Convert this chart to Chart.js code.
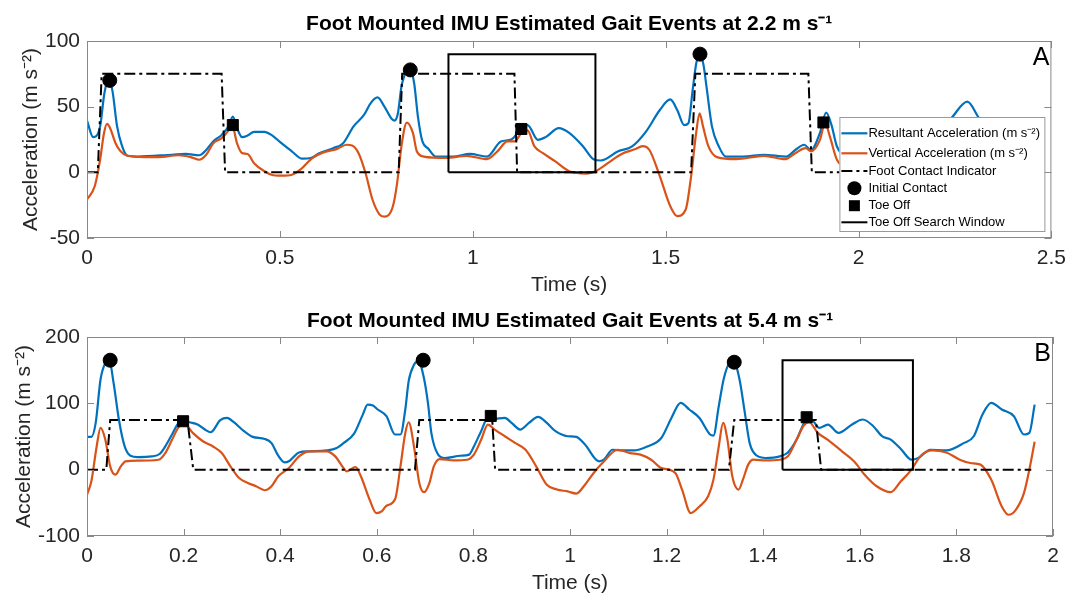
<!DOCTYPE html>
<html>
<head>
<meta charset="utf-8">
<script src="https://cdn.jsdelivr.net/npm/chart.js@4.4.1/dist/chart.umd.min.js"></script>
<style>
  html, body { margin: 0; background: #fff; }
  #wrap { position: relative; width: 1074px; height: 598px; }
  canvas { position: absolute; left: 0; }
  #chartA { top: 0; }
  #chartB { top: 298px; }
</style>
</head>
<body>
<div id="wrap">
  <canvas id="chartA" width="1074" height="300"></canvas>
  <canvas id="chartB" width="1074" height="300"></canvas>
</div>
<script>
// ---- panel A : 2.2 m/s ----
const resTimeA = [0, 0.016, 0.034, 0.045, 0.056, 0.066, 0.078, 0.091, 0.105, 0.131, 0.22, 0.256, 0.291, 0.309, 0.327, 0.349, 0.367, 0.378, 0.389, 0.402, 0.416, 0.433, 0.46, 0.478, 0.504, 0.531, 0.558, 0.58, 0.602, 0.638, 0.664, 0.691, 0.718, 0.735, 0.753, 0.771, 0.789, 0.797, 0.806, 0.815, 0.829, 0.838, 0.848, 0.858, 0.869, 0.885, 0.904, 0.948, 0.993, 1.037, 1.073, 1.1, 1.126, 1.142, 1.169, 1.19, 1.223, 1.25, 1.286, 1.313, 1.332, 1.377, 1.413, 1.449, 1.485, 1.512, 1.53, 1.548, 1.559, 1.57, 1.58, 1.589, 1.598, 1.606, 1.62, 1.638, 1.656, 1.7, 1.755, 1.813, 1.836, 1.859, 1.877, 1.9, 1.916, 1.93, 1.944, 1.97, 2.0, 2.1, 2.18, 2.24, 2.282, 2.313, 2.36];
const resultantA = [39.4, 26.8, 35, 60, 71, 62, 35, 20, 12.6, 12, 13.4, 14, 13, 17, 23.5, 28.5, 35, 42.4, 33.6, 26.8, 28, 30.8, 30.8, 28.5, 22.2, 16, 10.4, 10.9, 14.6, 18.4, 22.2, 35, 43.7, 52.5, 57, 50, 41, 39.4, 45, 65, 77, 78, 68, 42, 24, 18, 12, 12, 14, 12, 23.5, 25, 33.6, 36, 24.7, 27, 33.6, 30, 19.7, 10, 9, 16, 19.7, 31, 47.5, 55.5, 47.5, 36, 37.4, 62.6, 84, 89, 82, 65, 35, 19.7, 12, 12, 13.4, 12, 17, 21, 17, 30, 45.5, 36, 19.7, 13, 12, 13, 22, 41, 53.8, 41, 25];
const vertTimeA = [0, 0.02, 0.034, 0.044, 0.052, 0.06, 0.074, 0.087, 0.105, 0.149, 0.185, 0.238, 0.269, 0.291, 0.309, 0.327, 0.349, 0.367, 0.376, 0.389, 0.402, 0.416, 0.433, 0.46, 0.478, 0.504, 0.531, 0.553, 0.584, 0.611, 0.647, 0.673, 0.687, 0.704, 0.722, 0.74, 0.758, 0.771, 0.793, 0.804, 0.815, 0.829, 0.845, 0.855, 0.873, 0.931, 0.984, 1.037, 1.064, 1.09, 1.108, 1.126, 1.142, 1.16, 1.182, 1.214, 1.25, 1.295, 1.318, 1.35, 1.386, 1.422, 1.44, 1.458, 1.485, 1.512, 1.53, 1.552, 1.566, 1.579, 1.588, 1.597, 1.611, 1.633, 1.683, 1.755, 1.809, 1.836, 1.863, 1.877, 1.9, 1.913, 1.926, 1.944, 1.97, 2.0, 2.1, 2.2, 2.3, 2.36];
const verticalA = [-20.7, -10.6, 9.6, 29.8, 36.9, 33.6, 22.2, 16, 12.6, 11.6, 11.6, 13, 11.6, 9.6, 13.4, 22, 26, 32, 36, 22, 14.6, 14, 7, 0.8, -1.8, -2.5, -1.8, 2, 10.9, 15, 17.7, 21, 20.5, 14.6, -0.5, -20.7, -32, -33.8, -25.8, -8, 19.7, 37.9, 29.8, 16, 12, 10.9, 12.6, 10, 16, 23.5, 23.5, 29.8, 32, 19.7, 14.6, 8.3, 0.8, -1, 0.8, 7, 14, 17.7, 20, 17, -3, -25.8, -33.3, -28.3, -3, 29.8, 45, 34.8, 19.7, 11.6, 10, 12.6, 10, 14.6, 18.4, 16, 24.7, 37.4, 27, 9.6, 4, 3, 10, 14, 5, 0];
const contactTimeA = [0, 0.028, 0.038, 0.349, 0.358, 0.808, 0.817, 1.108, 1.115, 1.566, 1.577, 1.87, 1.879, 2.36];
const contactA = [0, 0, 75, 75, 0, 0, 75, 75, 0, 0, 75, 75, 0, 0];
const icTimeA = [0.059, 0.838, 1.589];
const icA = [70, 78, 90];
const toTimeA = [0.378, 1.126, 1.909];
const toA = [36, 33, 38];
const windowA = [0.937, 1.318, 90]; // start, end, height

// ---- panel B : 5.4 m/s ----
const resTimeB = [0, 0.009, 0.018, 0.028, 0.038, 0.046, 0.055, 0.066, 0.078, 0.09, 0.105, 0.134, 0.151, 0.162, 0.176, 0.187, 0.197, 0.212, 0.229, 0.244, 0.256, 0.276, 0.29, 0.304, 0.325, 0.343, 0.368, 0.382, 0.396, 0.409, 0.418, 0.439, 0.46, 0.496, 0.517, 0.531, 0.553, 0.571, 0.581, 0.592, 0.602, 0.62, 0.638, 0.649, 0.659, 0.666, 0.677, 0.686, 0.697, 0.706, 0.713, 0.727, 0.741, 0.773, 0.791, 0.801, 0.816, 0.83, 0.844, 0.865, 0.879, 0.897, 0.915, 0.934, 0.952, 0.97, 0.995, 1.013, 1.031, 1.06, 1.07, 1.088, 1.11, 1.132, 1.16, 1.189, 1.21, 1.229, 1.247, 1.268, 1.29, 1.297, 1.308, 1.318, 1.329, 1.34, 1.351, 1.362, 1.372, 1.387, 1.405, 1.434, 1.451, 1.469, 1.484, 1.491, 1.505, 1.516, 1.534, 1.556, 1.584, 1.606, 1.628, 1.646, 1.664, 1.685, 1.707, 1.721, 1.746, 1.779, 1.815, 1.836, 1.854, 1.872, 1.894, 1.919, 1.94, 1.951, 1.962];
const resultantB = [49.4, 49.4, 70.5, 136, 161, 165, 131, 75.6, 35, 21, 19, 20, 24, 35, 53, 68, 74.6, 71.5, 68, 60.5, 56.4, 74.6, 78, 71.5, 58, 49.4, 46.3, 40, 21, 11, 12.6, 26, 27.7, 29, 32.7, 40, 54.4, 83, 98, 96.7, 90.7, 80.6, 53, 53, 90.7, 133.5, 158, 164, 140, 100, 55, 22.7, 17.6, 21, 22.7, 35, 58, 78, 76.6, 78, 70.5, 60.5, 70.5, 79.6, 70.5, 58, 50.4, 49.4, 37.8, 12.6, 15, 30, 29, 29, 35, 47.8, 78, 100.7, 90.7, 78, 53, 51.4, 95.7, 136, 158.7, 161, 136, 85.6, 40, 21, 17.6, 20, 26, 45, 69.5, 76.6, 71.5, 63, 68, 55.4, 68, 75.6, 65.5, 50.4, 45.3, 31.2, 15, 17.6, 30, 29, 40, 50.4, 83, 100.7, 90.7, 80.6, 53, 55.4, 98];
const vertTimeB = [0, 0.009, 0.02, 0.028, 0.038, 0.048, 0.059, 0.07, 0.08, 0.105, 0.148, 0.162, 0.176, 0.19, 0.2, 0.219, 0.24, 0.261, 0.279, 0.297, 0.315, 0.333, 0.35, 0.368, 0.382, 0.396, 0.418, 0.439, 0.46, 0.496, 0.514, 0.531, 0.538, 0.556, 0.567, 0.585, 0.599, 0.61, 0.62, 0.638, 0.649, 0.659, 0.666, 0.677, 0.688, 0.698, 0.709, 0.718, 0.73, 0.759, 0.787, 0.801, 0.816, 0.83, 0.844, 0.865, 0.887, 0.908, 0.93, 0.952, 0.973, 0.995, 1.013, 1.031, 1.049, 1.067, 1.099, 1.124, 1.146, 1.168, 1.189, 1.218, 1.232, 1.25, 1.268, 1.286, 1.297, 1.308, 1.317, 1.326, 1.336, 1.349, 1.358, 1.369, 1.38, 1.405, 1.434, 1.451, 1.469, 1.484, 1.495, 1.513, 1.534, 1.563, 1.588, 1.61, 1.635, 1.664, 1.685, 1.707, 1.725, 1.75, 1.779, 1.807, 1.829, 1.85, 1.872, 1.894, 1.908, 1.923, 1.94, 1.951, 1.962];
const verticalB = [-37.8, -17.6, 35, 63, 45, 5, -7.6, 5, 12.6, 13.6, 15, 25, 45, 64.5, 70, 55.4, 42.8, 35, 25, 5, -12.6, -20, -25, -31, -25, -10, 2.5, 20, 27.7, 27.7, 20, 2.5, -2.5, 4, -10, -45, -65.5, -63, -54.4, -44.3, 5, 55.4, 71.5, 35, -20, -34, -20, 5, 16, 14, 15, 22.7, 45, 68, 60.5, 50.4, 40, 30, 5, -22.7, -30, -32.7, -36, -22.7, -5, 10, 30, 25, 22.7, 15, 2.5, -5, -30, -65.5, -55.4, -40, -15, 35, 70.5, 45, -10, -30, -15, 7.6, 15, 14, 15, 20, 45, 66.5, 71.5, 55.4, 45, 27.7, 12.6, -7.6, -25, -34, -17.6, 0, 20, 29, 26, 15, 10, 7.6, -15, -55.4, -68, -60.5, -35, 0, 42];
const contactTimeB = [0, 0.04, 0.048, 0.208, 0.22, 0.679, 0.688, 0.839, 0.845, 1.329, 1.34, 1.509, 1.52, 1.955];
const contactB = [0, 0, 75, 75, 0, 0, 75, 75, 0, 0, 75, 75, 0, 0];
const icTimeB = [0.048, 0.696, 1.34];
const icB = [165, 165, 162];
const toTimeB = [0.199, 0.836, 1.49];
const toB = [73, 81, 79];
const windowB = [1.44, 1.71, 165];

const FONT = '"Liberation Sans", Arial, sans-serif';
Chart.defaults.font.family = FONT;

const pts = (xs, ys) => xs.map((x, i) => ({ x: x, y: ys[i] }));
const box = w => [{ x: w[0], y: 0 }, { x: w[0], y: w[2] }, { x: w[1], y: w[2] }, { x: w[1], y: 0 }, { x: w[0], y: 0 }];

function drawLegend(chart, L) {
  const ctx = chart.ctx, a = chart.chartArea;
  const x0 = a.right - L.right - L.width, y0 = a.top + L.top;
  ctx.fillStyle = '#fff';
  ctx.fillRect(x0, y0, L.width, L.height);
  ctx.strokeStyle = '#999';
  ctx.lineWidth = 1;
  ctx.strokeRect(x0 + 0.5, y0 + 0.5, L.width, L.height);
  ctx.font = '13px ' + FONT;
  ctx.textAlign = 'left';
  ctx.textBaseline = 'middle';
  chart.data.datasets.forEach((ds, i) => {
    const cy = y0 + L.rows[i];
    ctx.fillStyle = '#000';
    if (ds.showLine === false) {
      ctx.beginPath();
      if (ds.pointStyle == 'circle') ctx.arc(x0 + 15, cy, 7, 0, Math.PI * 2);
      else ctx.rect(x0 + 9.5, cy - 5.5, 11, 11);
      ctx.fill();
    } else {
      ctx.strokeStyle = ds.borderColor;
      ctx.lineWidth = ds.borderWidth;
      ctx.setLineDash(ds.borderDash || []);
      ctx.beginPath();
      ctx.moveTo(x0 + 2, cy);
      ctx.lineTo(x0 + 28, cy);
      ctx.stroke();
      ctx.setLineDash([]);
    }
    ctx.fillStyle = '#000';
    ctx.fillText(ds.label, x0 + 29, cy);
  });
}

// matlab style box, inward ticks, panel letter and legend
const decor = {
  id: 'decor',
  afterDraw(chart, args, opts) {
    const { ctx, chartArea: a } = chart;
    const xs = chart.scales.x, ys = chart.scales.y;
    ctx.save();
    ctx.strokeStyle = '#888';
    ctx.lineWidth = 1;
    ctx.beginPath();
    xs.ticks.forEach(t => {
      const p = Math.round(xs.getPixelForValue(t.value)) + 0.5;
      ctx.moveTo(p, a.bottom); ctx.lineTo(p, a.bottom - 7);
      ctx.moveTo(p, a.top); ctx.lineTo(p, a.top + 7);
    });
    ys.ticks.forEach(t => {
      const p = Math.round(ys.getPixelForValue(t.value)) + 0.5;
      ctx.moveTo(a.left, p); ctx.lineTo(a.left + 7, p);
      ctx.moveTo(a.right, p); ctx.lineTo(a.right - 7, p);
    });
    ctx.stroke();
    ctx.strokeRect(a.left + 0.5, a.top + 0.5, a.width - 1, a.height - 1);
    ctx.fillStyle = '#000';
    ctx.font = '25px ' + FONT;
    ctx.textAlign = 'right';
    ctx.textBaseline = 'alphabetic';
    ctx.fillText(opts.letter, a.right - 2, a.top + 24);
    if (opts.legend) drawLegend(chart, opts.legend);
    ctx.restore();
  }
};

function makeChart(id, d) {
  return new Chart(document.getElementById(id), {
    type: 'line',
    data: {
      datasets: [
        { label: 'Resultant Acceleration (m s\u207B\u00B2)', data: pts(d.resTime, d.res), borderColor: '#0072BD', borderWidth: 2.2, pointRadius: 0, cubicInterpolationMode: 'monotone', order: 6 },
        { label: 'Vertical Acceleration (m s\u207B\u00B2)', data: pts(d.vertTime, d.vert), borderColor: '#D95319', borderWidth: 2.2, pointRadius: 0, cubicInterpolationMode: 'monotone', order: 5 },
        { label: 'Foot Contact Indicator', data: pts(d.contactTime, d.contact), borderColor: '#000', borderWidth: 2, borderDash: [11, 4, 3, 4], pointRadius: 0, tension: 0, order: 4 },
        { label: 'Initial Contact', data: pts(d.icTime, d.ic), showLine: false, pointStyle: 'circle', pointRadius: 7, backgroundColor: '#000', borderColor: '#000', order: 2 },
        { label: 'Toe Off', data: pts(d.toTime, d.to), showLine: false, pointStyle: 'rect', pointRadius: 7.8, backgroundColor: '#000', borderColor: '#000', order: 1 },
        { label: 'Toe Off Search Window', data: box(d.win), borderColor: '#000', borderWidth: 2, pointRadius: 0, tension: 0, order: 3 }
      ]
    },
    options: {
      responsive: false,
      animation: false,
      layout: { padding: { left: 0, right: 21, top: 0, bottom: 0 } },
      plugins: {
        legend: { display: false },
        tooltip: { enabled: false },
        title: {
          display: true, fullSize: false, text: d.title, color: '#000',
          font: { size: 21, weight: 'bold' }, padding: d.titlePad
        },
        decor: { letter: d.letter, legend: d.legend }
      },
      scales: {
        x: {
          type: 'linear', min: 0, max: d.xMax,
          grid: { display: false, drawTicks: false }, border: { display: false },
          ticks: { stepSize: d.xStep, color: '#262626', font: { size: 21 }, padding: 8, maxRotation: 0,
                   callback: v => String(+v.toFixed(2)) },
          title: { display: true, text: 'Time (s)', color: '#262626', font: { size: 21 }, padding: { top: 0, bottom: 1.7 } },
          afterFit: s => { s.height = 62; }
        },
        y: {
          min: d.yMin, max: d.yMax,
          grid: { display: false, drawTicks: false }, border: { display: false },
          ticks: { stepSize: d.yStep, color: '#262626', font: { size: 21 }, padding: 7, callback: v => String(v) },
          title: { display: true, text: 'Acceleration (m s\u207B\u00B2)', color: '#262626', font: { size: 21 }, padding: { top: d.yTitlePad, bottom: 0 } },
          afterFit: s => { s.width = 87; }
        }
      }
    },
    plugins: [decor]
  });
}

makeChart('chartA', {
  title: 'Foot Mounted IMU Estimated Gait Events at 2.2 m s\u207B\u00B9', letter: 'A',
  titlePad: { top: 12, bottom: 3.8 }, yTitlePad: 18.4,
  xMax: 2.5, xStep: 0.5, yMin: -50, yMax: 100, yStep: 50,
  resTime: resTimeA, res: resultantA, vertTime: vertTimeA, vert: verticalA,
  contactTime: contactTimeA, contact: contactA, icTime: icTimeA, ic: icA,
  toTime: toTimeA, to: toA, win: windowA,
  legend: { right: 7, top: 76, width: 205, height: 114, rows: [16.3, 36.3, 54, 71.3, 88.7, 105.3] }
});

makeChart('chartB', {
  title: 'Foot Mounted IMU Estimated Gait Events at 5.4 m s\u207B\u00B9', letter: 'B',
  titlePad: { top: 10.4, bottom: 3.4 }, yTitlePad: 11.4,
  xMax: 2, xStep: 0.2, yMin: -100, yMax: 200, yStep: 100,
  resTime: resTimeB, res: resultantB, vertTime: vertTimeB, vert: verticalB,
  contactTime: contactTimeB, contact: contactB, icTime: icTimeB, ic: icB,
  toTime: toTimeB, to: toB, win: windowB,
  legend: null
});
</script>
</body>
</html>
